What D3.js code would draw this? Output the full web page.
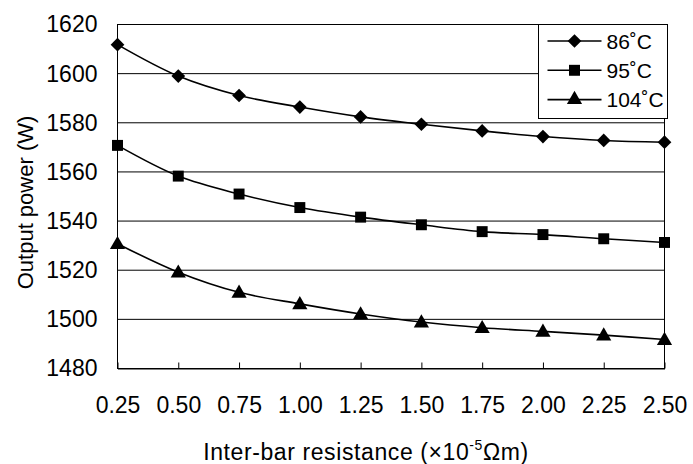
<!DOCTYPE html>
<html>
<head>
<meta charset="utf-8">
<script src="https://cdn.jsdelivr.net/npm/d3@7"></script>
<style>
  body { margin: 0; background: #fff; }
  svg { display: block; font-family: Arial, "Liberation Sans", sans-serif; }
  .grid line { stroke: #000; stroke-width: 1; }
  .series path.ln { fill: none; stroke: #000; stroke-width: 1.6; }
  .series path.pt { fill: #000; stroke: none; }
</style>
</head>
<body>
<svg id="chart" width="693" height="464"></svg>
<script>
// data
const resistance = [0.25, 0.50, 0.75, 1.00, 1.25, 1.50, 1.75, 2.00, 2.25, 2.50];
const temps = ["86˚C", "95˚C", "104˚C"];
const power86 = [1611.8, 1599.0, 1591.1, 1586.4, 1582.4, 1579.4, 1576.7, 1574.4, 1572.8, 1572.1];
const power95 = [1570.8, 1558.3, 1551.0, 1545.5, 1541.6, 1538.5, 1535.7, 1534.5, 1532.8, 1531.3];
const power104 = [1530.8, 1519.2, 1511.0, 1506.3, 1502.2, 1498.9, 1496.6, 1495.1, 1493.6, 1491.8];
const yTicks = [1480, 1500, 1520, 1540, 1560, 1580, 1600, 1620];

const svg = d3.select('#chart');
const margin = {left: 117.5, right: 28.5, top: 24.5, bottom: 95.5};
const width = +svg.attr('width');
const height = +svg.attr('height');
const fontStack = 'Arial, "Liberation Sans", sans-serif';

const x = d3.scaleLinear().domain([0.25, 2.5]).range([margin.left, width - margin.right]);
const y = d3.scaleLinear().domain([1480, 1620]).range([height - margin.bottom, margin.top]);

// gridlines
svg.append('g')
    .attr('class', 'grid')
    .selectAll('line')
    .data(yTicks)
    .enter().append('line')
    .attr('x1', x(0.25)).attr('x2', x(2.5))
    .attr('y1', d => y(d)).attr('y2', d => y(d));

// plot border
svg.append('rect')
    .attr('x', x(0.25)).attr('y', y(1620))
    .attr('width', x(2.5) - x(0.25)).attr('height', y(1480) - y(1620))
    .attr('fill', 'none').attr('stroke', '#000').attr('stroke-width', 1);

// x axis, ticks pointing inward
const xAxis = svg.append('g')
    .attr('transform', `translate(0,${y(1480)})`)
    .call(d3.axisBottom(x).tickValues(resistance).tickFormat(d3.format('.2f')).tickSizeInner(-6).tickSizeOuter(0).tickPadding(28));
xAxis.select('.domain').attr('stroke', '#000');
xAxis.selectAll('.tick line').attr('stroke', '#000');
xAxis.selectAll('text').attr('font-size', 23).attr('fill', '#000').attr('font-family', fontStack);

// y axis labels
const yAxis = svg.append('g')
    .attr('transform', `translate(${x(0.25)},0)`)
    .call(d3.axisLeft(y).tickValues(yTicks).tickFormat(d3.format('d')).tickSize(0).tickPadding(20));
yAxis.select('.domain').remove();
yAxis.selectAll('text').attr('font-size', 23).attr('fill', '#000').attr('font-family', fontStack);

// axis titles
svg.append('text')
    .attr('transform', `translate(33,${(y(1480) + y(1620)) / 2 + 6}) rotate(-90)`)
    .attr('text-anchor', 'middle')
    .attr('font-size', 22)
    .text('Output power (W)');

const xt = svg.append('text')
    .attr('x', 366)
    .attr('y', 460)
    .attr('text-anchor', 'middle')
    .attr('font-size', 23)
    .attr('letter-spacing', 0.6);
xt.append('tspan').text('Inter-bar resistance (×10');
xt.append('tspan').attr('font-size', 14).attr('dy', -10).text('-5');
xt.append('tspan').attr('dy', 10).text('Ωm)');

// series
const seriesData = [power86, power95, power104];
const symbols = [d3.symbolDiamond2, d3.symbolSquare, d3.symbolTriangle];
const symbolSizes = [120, 120, 100];

const line = d3.line()
    .x((d, i) => x(resistance[i]))
    .y(d => y(d))
    .curve(d3.curveCatmullRom.alpha(0.5));

const series = svg.append('g').attr('class', 'series')
    .selectAll('g')
    .data(seriesData)
    .enter().append('g');

series.append('path').attr('class', 'ln').attr('d', d => line(d));

series.each(function (vals, si) {
    d3.select(this).selectAll('.pt')
        .data(vals)
        .enter().append('path')
        .attr('class', 'pt')
        .attr('transform', (d, i) => `translate(${x(resistance[i])},${y(d) + (si === 2 ? 1 : 0)})`)
        .attr('d', d3.symbol().type(symbols[si]).size(symbolSizes[si]));
});

// legend
const lg = svg.append('g').attr('transform', 'translate(538.5,24.5)');
lg.append('rect')
    .attr('width', 129).attr('height', 94)
    .attr('fill', '#fff').attr('stroke', '#000').attr('stroke-width', 1);

const rows = lg.selectAll('.row')
    .data(temps)
    .enter().append('g')
    .attr('transform', (d, i) => `translate(0,${16.5 + i * 29.3})`);
rows.append('line')
    .attr('x1', 9).attr('x2', 63)
    .attr('stroke', '#000').attr('stroke-width', 1.6);
rows.append('path')
    .attr('transform', 'translate(36,0)')
    .attr('d', (d, i) => d3.symbol().type(symbols[i]).size(symbolSizes[i])())
    .attr('fill', '#000');
rows.append('text')
    .attr('x', 68).attr('dy', '0.36em')
    .attr('font-size', 21)
    .text(d => d);
</script>
</body>
</html>
